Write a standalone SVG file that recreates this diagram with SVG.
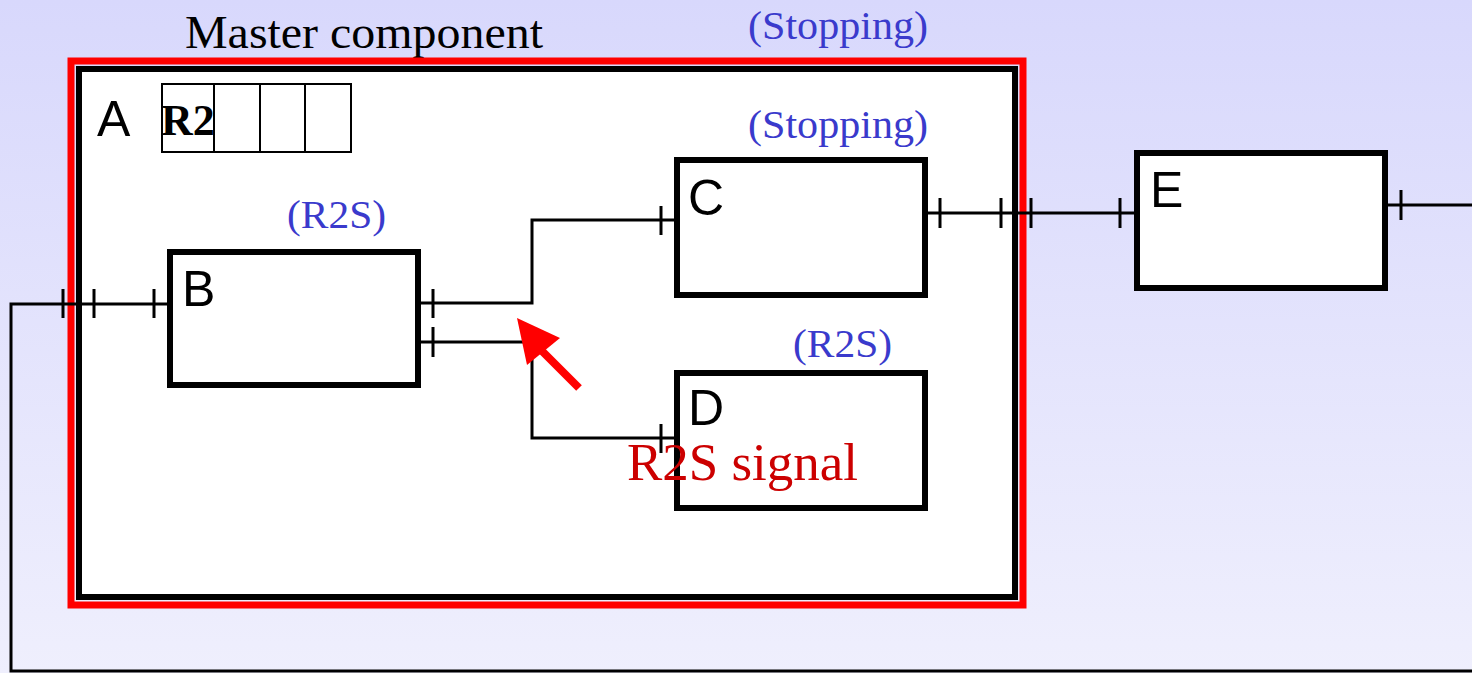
<svg xmlns="http://www.w3.org/2000/svg" width="1472" height="673" viewBox="0 0 1472 673">
<defs>
<linearGradient id="bg" x1="0" y1="0" x2="0" y2="1">
<stop offset="0" stop-color="#d8d8fc"/>
<stop offset="1" stop-color="#efeffd"/>
</linearGradient>
<style>
.box{fill:#fff;stroke:#000;stroke-width:6}
.lbl{font-family:"Liberation Sans",Arial,sans-serif;font-size:50px;fill:#000}
.st{font-family:"Liberation Serif","Times New Roman",serif;font-size:41px;fill:#3a3acc}
.w{fill:none;stroke:#000;stroke-width:3}
.tk{stroke:#000;stroke-width:3}
.cell{fill:none;stroke:#000;stroke-width:2}
</style>
</defs>
<rect width="1472" height="673" fill="url(#bg)"/>
<text x="185" y="48" font-family="Liberation Serif,Times New Roman,serif" font-size="46" fill="#000" textLength="358" lengthAdjust="spacingAndGlyphs">Master component</text>
<text x="748" y="39" class="st" textLength="180" lengthAdjust="spacingAndGlyphs">(Stopping)</text>
<g id="A">
<rect x="71" y="61" width="952" height="544" fill="none" stroke="#ff0000" stroke-width="7"/>
<rect x="79" y="69" width="936" height="528" class="box" stroke-width="7"/>
<text x="97" y="136" class="lbl">A</text>
<rect x="162" y="84" width="52" height="68" class="cell"/>
<rect x="214" y="84" width="46" height="68" class="cell"/>
<rect x="260" y="84" width="45" height="68" class="cell"/>
<rect x="305" y="84" width="46" height="68" class="cell"/>
<text x="161" y="135" font-family="Liberation Serif,Times New Roman,serif" font-size="44" font-weight="bold" fill="#000">R2</text>
</g>
<g id="B">
<rect x="170" y="252" width="248" height="133" class="box"/>
<text x="182" y="306" class="lbl">B</text>
<text x="287" y="228" class="st" textLength="99" lengthAdjust="spacingAndGlyphs">(R2S)</text>
</g>
<g id="C">
<rect x="677" y="160" width="248" height="135" class="box"/>
<text x="688" y="215" class="lbl">C</text>
<text x="748" y="138" class="st" textLength="180" lengthAdjust="spacingAndGlyphs">(Stopping)</text>
</g>
<g id="D">
<rect x="677" y="373" width="248" height="135" class="box"/>
<text x="688" y="425" class="lbl">D</text>
<text x="793" y="357" class="st" textLength="99" lengthAdjust="spacingAndGlyphs">(R2S)</text>
</g>
<g id="E">
<rect x="1137" y="153" width="248" height="135" class="box"/>
<text x="1150" y="207" class="lbl">E</text>
</g>
<g id="connectors">
<path class="w" d="M1472 671 H11 V304 H168"/>
<path class="w" d="M420 303 H532 V220 H675"/>
<path class="w" d="M420 342 H532 V438 H675"/>
<path class="w" d="M926 213 H1135"/>
<path class="w" d="M1387 205 H1472"/>
<g class="tk">
<line x1="63" y1="289" x2="63" y2="318"/>
<line x1="94" y1="289" x2="94" y2="318"/>
<line x1="154" y1="289" x2="154" y2="318"/>
<line x1="433" y1="289" x2="433" y2="318"/>
<line x1="433" y1="327" x2="433" y2="357"/>
<line x1="661" y1="206" x2="661" y2="235"/>
<line x1="661" y1="424" x2="661" y2="453"/>
<line x1="940" y1="198" x2="940" y2="228"/>
<line x1="1001" y1="198" x2="1001" y2="228"/>
<line x1="1031" y1="198" x2="1031" y2="228"/>
<line x1="1120" y1="198" x2="1120" y2="228"/>
<line x1="1401" y1="190" x2="1401" y2="220"/>
</g>
<g id="r2s-arrow">
<line x1="579" y1="388" x2="539" y2="348" stroke="#ff0000" stroke-width="8"/>
<polygon points="517,318 560,338 527,365" fill="#ff0000"/>
</g>
</g>
<text x="627" y="480" font-family="Liberation Serif,Times New Roman,serif" font-size="53" fill="#cc0000" textLength="231" lengthAdjust="spacingAndGlyphs">R2S signal</text>
</svg>
